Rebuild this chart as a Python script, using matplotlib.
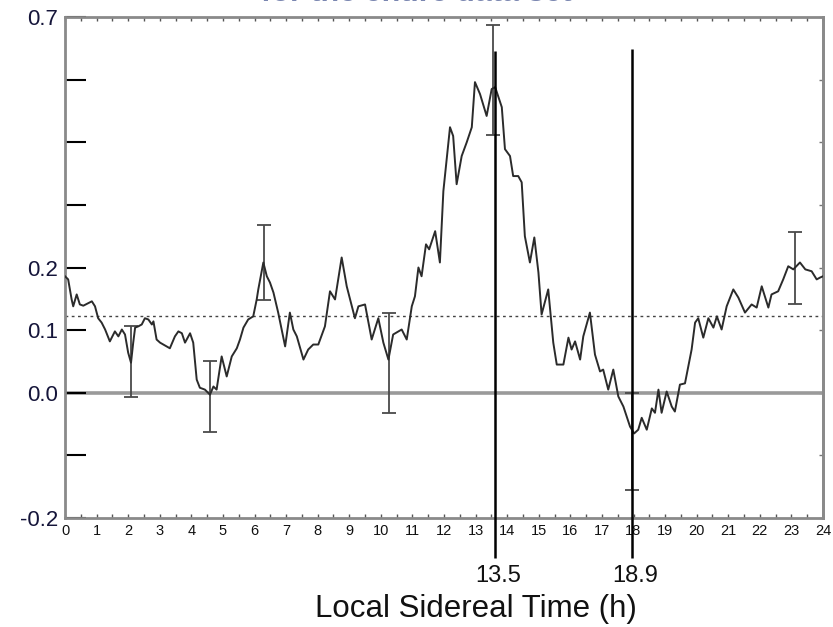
import matplotlib
matplotlib.use("Agg")
import matplotlib.pyplot as plt
import numpy as np

# ---- data ----
lst_hours = [0.00, 0.10, 0.21, 0.26, 0.37, 0.47, 0.58, 0.85, 0.95, 1.05, 1.16, 1.27, 1.42, 1.58, 1.69,
             1.80, 1.90, 2.00, 2.09, 2.16, 2.22, 2.32, 2.43, 2.53, 2.64, 2.75, 2.80, 2.90, 3.01, 3.32,
             3.48, 3.59, 3.70, 3.80, 3.96, 4.06, 4.17, 4.27, 4.43, 4.59, 4.70, 4.80, 4.96, 5.12, 5.28,
             5.44, 5.54, 5.65, 5.80, 5.96, 6.07, 6.12, 6.28, 6.39, 6.49, 6.60, 6.75, 6.97, 7.12, 7.23,
             7.34, 7.55, 7.70, 7.86, 8.02, 8.23, 8.39, 8.55, 8.76, 8.92, 9.18, 9.29, 9.50, 9.71, 9.92,
             10.08, 10.24, 10.39, 10.66, 10.82, 10.98, 11.08, 11.19, 11.29, 11.43, 11.53, 11.72, 11.87,
             11.98, 12.19, 12.29, 12.40, 12.56, 12.72, 12.88, 12.98, 13.14, 13.35, 13.51, 13.62, 13.83,
             13.93, 14.09, 14.19, 14.35, 14.46, 14.56, 14.72, 14.86, 14.99, 15.09, 15.30, 15.46, 15.57,
             15.78, 15.94, 16.04, 16.15, 16.31, 16.41, 16.62, 16.78, 16.94, 17.04, 17.20, 17.36, 17.52,
             17.68, 17.89, 18.02, 18.15, 18.26, 18.42, 18.58, 18.68, 18.79, 18.89, 19.05, 19.21, 19.31,
             19.47, 19.63, 19.84, 19.95, 20.05, 20.21, 20.37, 20.53, 20.64, 20.79, 20.95, 21.16, 21.32,
             21.53, 21.74, 21.90, 22.06, 22.27, 22.37, 22.58, 22.74, 22.90, 23.06, 23.27, 23.44, 23.64,
             23.80, 23.91, 24.00]
amplitude = [0.186, 0.181, 0.149, 0.138, 0.157, 0.141, 0.139, 0.146, 0.138, 0.119, 0.112, 0.101, 0.082,
             0.098, 0.090, 0.101, 0.093, 0.064, 0.048, 0.080, 0.104, 0.106, 0.109, 0.119, 0.117, 0.109,
             0.114, 0.085, 0.080, 0.071, 0.090, 0.098, 0.095, 0.080, 0.095, 0.080, 0.021, 0.008, 0.005,
             -0.003, 0.010, 0.005, 0.058, 0.026, 0.058, 0.071, 0.085, 0.104, 0.117, 0.122, 0.149, 0.165,
             0.208, 0.186, 0.176, 0.160, 0.128, 0.074, 0.128, 0.101, 0.090, 0.053, 0.069, 0.077, 0.077,
             0.106, 0.162, 0.149, 0.216, 0.170, 0.119, 0.138, 0.141, 0.085, 0.119, 0.080, 0.053, 0.093,
             0.101, 0.085, 0.138, 0.154, 0.200, 0.186, 0.237, 0.229, 0.258, 0.208, 0.322, 0.424, 0.410,
             0.333, 0.378, 0.400, 0.424, 0.496, 0.477, 0.442, 0.485, 0.488, 0.456, 0.389, 0.378, 0.346,
             0.346, 0.336, 0.250, 0.208, 0.248, 0.192, 0.125, 0.165, 0.080, 0.045, 0.045, 0.088, 0.069,
             0.082, 0.053, 0.090, 0.128, 0.061, 0.034, 0.037, 0.005, 0.037, -0.006, -0.022, -0.054,
             -0.065, -0.059, -0.040, -0.059, -0.025, -0.032, 0.005, -0.032, 0.002, -0.022, -0.030, 0.013,
             0.015, 0.069, 0.112, 0.119, 0.088, 0.119, 0.104, 0.122, 0.101, 0.138, 0.165, 0.152, 0.128,
             0.141, 0.136, 0.170, 0.136, 0.157, 0.162, 0.181, 0.202, 0.197, 0.208, 0.197, 0.194, 0.181,
             0.184, 0.186]

err_hours = [2.09, 4.59, 6.31, 10.27, 13.56, 17.94, 23.12]
err_center = [0.050, -0.006, 0.208, 0.048, 0.500, -0.078, 0.199]
err_size = [0.056, 0.056, 0.060, 0.080, 0.088, 0.078, 0.058]

mean_level = 0.122
marker_pos = [13.62, 17.95]
marker_top = [0.546, 0.549]
marker_labels = ["13.5", "18.9"]

ytick_vals = [-0.2, -0.1, 0.0, 0.1, 0.2, 0.3, 0.4, 0.5, 0.6]
ytick_labels = ["-0.2", "", "0.0", "0.1", "0.2", "", "", "", "0.7"]
xtick_vals = list(range(0, 25))

title_text = "for the entire data set"
xlabel_text = "Local Sidereal Time (h)"

# ---- figure ----
plt.rcParams["font.family"] = ["Liberation Sans", "DejaVu Sans"]

fig = plt.figure(figsize=(8.33, 6.27), dpi=100)
ax = fig.add_axes([65 / 833, 1 - 518 / 627, 758 / 833, 501 / 627])
ax.set_xlim(0, 24)
ax.set_ylim(-0.2, 0.6)

ax.axhline(0.0, color="#9a9a9a", lw=2.6, zorder=1)
ax.axhline(mean_level, color="#444444", lw=1.0, ls=(0, (2, 2.5)), zorder=1)

ax.plot(lst_hours, amplitude, color="#2b2b2b", lw=1.4, zorder=3)
ax.errorbar(err_hours, err_center, yerr=err_size, fmt="none", ecolor="#4a4a4a",
            elinewidth=1.3, capsize=5, capthick=1.3, zorder=2)

ax.vlines(marker_pos, [-0.264] * len(marker_pos), marker_top, colors="black",
          lw=1.8, clip_on=False, zorder=4)
for xp, lab in zip(marker_pos, marker_labels):
    ax.text(xp + 0.1, -0.2 - 58 / 625, lab, ha="center", va="center", fontsize=17,
            color="#111111", clip_on=False)

# spines
for s in ax.spines.values():
    s.set_color("#8a8a8a")
    s.set_linewidth(2)

# x ticks
ax.set_xticks(xtick_vals)
ax.set_xticklabels([str(v) for v in xtick_vals], fontsize=10.5, color="#111111")
ax.set_xticks(np.arange(0.5, 24, 1.0), minor=True)
ax.tick_params(axis="x", which="both", direction="in", length=3, width=1,
               color="#555555", top=True, bottom=True, pad=4)

# y ticks (left long, right short)
ax.set_yticks(ytick_vals)
ax.set_yticklabels(ytick_labels, fontsize=16, color="#15153a")
ax.tick_params(axis="y", which="major", direction="in", length=15, width=1.5,
               color="black", left=True, right=False, pad=5)
sec = ax.secondary_yaxis("right")
sec.set_yticks(ytick_vals)
sec.set_yticklabels([])
sec.tick_params(direction="in", length=3, width=1, color="#777777")
sec.spines["right"].set_color("#8a8a8a")
sec.spines["right"].set_linewidth(2)

ax.set_xlabel(xlabel_text, fontsize=22.5, color="#111111")
ax.xaxis.label.set_va("center")
ax.xaxis.set_label_coords((476 - 65) / 758, (518 - 609) / 501)

fig.text(0.5, 1 - 1.0 / 627, title_text, ha="center", va="baseline", fontsize=22,
         fontweight="bold", color="#7a86b0")

fig.savefig("out.png", dpi=100)
